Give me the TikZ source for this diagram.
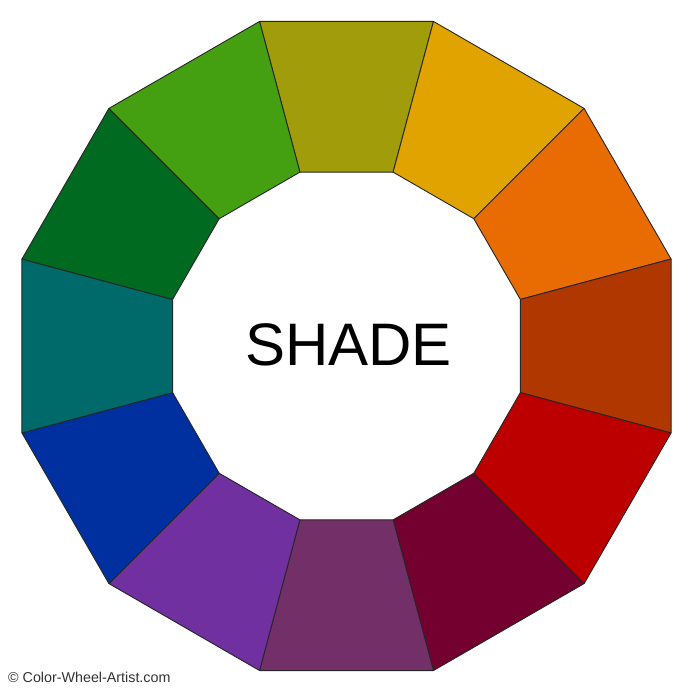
\documentclass[tikz,border=0pt]{standalone}
\usepackage{fontspec}
\setmainfont{Liberation Sans}
\definecolor{cOlive}{HTML}{A09C0A}
\definecolor{cGold}{HTML}{E0A300}
\definecolor{cOrange}{HTML}{E86C02}
\definecolor{cRust}{HTML}{B03800}
\definecolor{cRed}{HTML}{BC0000}
\definecolor{cMaroon}{HTML}{740030}
\definecolor{cPlum}{HTML}{733068}
\definecolor{cPurple}{HTML}{7030A0}
\definecolor{cBlue}{HTML}{0030A0}
\definecolor{cTeal}{HTML}{006A6A}
\definecolor{cDkGreen}{HTML}{006A20}
\definecolor{cGreen}{HTML}{44A010}
\begin{document}
\begin{tikzpicture}[x=1pt,y=1pt,
  seg/.style={draw=black!85, line width=0.9pt, line join=round},
  title/.style={font=\fontsize{60}{60}\selectfont, text=black, inner sep=0pt, anchor=base},
  credit/.style={font=\fontsize{14.3}{15}\selectfont, text=black!80, inner sep=0pt, anchor=base west}]
\useasboundingbox (0,0) rectangle (700,700);
\begin{scope}[shift={(346.5,354)}]
\foreach \a/\c in {90/cOlive,60/cGold,30/cOrange,0/cRust,-30/cRed,-60/cMaroon,-90/cPlum,-120/cPurple,-150/cBlue,180/cTeal,150/cDkGreen,120/cGreen}{
  \filldraw[seg, fill=\c] ({\a+15}:336) -- ({\a-15}:336) -- ({\a-15}:180) -- ({\a+15}:180) -- cycle;
}
\end{scope}
\node[title] (shade) at (348.5,334) {SHADE};
\node[credit] (copy) at (8,17) {© Color-Wheel-Artist.com};
\end{tikzpicture}
\end{document}
